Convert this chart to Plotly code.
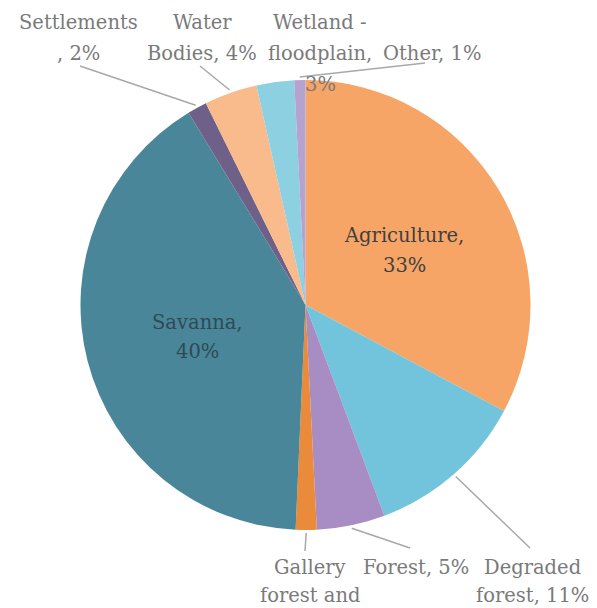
import math
import plotly.graph_objects as go

# ---- data ----
categories = ["Agriculture", "Degraded forest", "Forest", "Gallery forest and riparian",
              "Savanna", "Settlements", "Water Bodies", "Wetland - floodplain", "Other"]
values = [32.8, 11.5, 4.9, 1.5, 40.6, 1.4, 3.8, 2.7, 0.8]
label_texts = ["Agriculture,<br>33%", "Degraded<br>forest, 11%", "Forest, 5%",
               "Gallery<br>forest and", "Savanna,<br>40%", "Settlements<br>, 2%",
               "Water<br>Bodies, 4%", "Wetland -<br>floodplain,<br>3%", "Other, 1%"]

# ---- styles ----
colors = ["#f7a566", "#72c4dc", "#a88cc4", "#e98b3b", "#4a8699",
          "#6f6089", "#f9bb8b", "#8dd0e2", "#b6a2cf"]

W, H = 597, 608
CX, CY, R = 305.5, 305.0, 225.0

# label placement (pixel centers of each text line), leader end point (None = no line)
label_pos = {
    "Agriculture": (404, [236, 265], None, "#404040"),
    "Degraded forest": (532, [567, 595], (530, 548), "#7a7a7a"),
    "Forest": (416, [567], (410, 548), "#7a7a7a"),
    "Gallery forest and riparian": (310, [567, 595], (305, 551), "#7a7a7a"),
    "Savanna": (197, [322, 351], None, "#2f4a55"),
    "Settlements": (78, [23, 53], (80, 66), "#7a7a7a"),
    "Water Bodies": (202, [23, 53], (200, 66), "#7a7a7a"),
    "Wetland - floodplain": (320, [23, 53, 84], None, "#7a7a7a"),
    "Other": (432, [53], (425, 63), "#7a7a7a"),
}

FONT = "DejaVu Serif"
FS = 19.5

def px(x):
    return x / W

def py(y):
    return 1 - y / H

fig = go.Figure(go.Pie(
    labels=categories,
    values=values,
    sort=False,
    direction="clockwise",
    rotation=0,
    marker=dict(colors=colors, line=dict(width=0)),
    textinfo="none",
    hoverinfo="label+percent",
    showlegend=False,
    domain=dict(x=[(CX - R) / W, (CX + R) / W], y=[(H - CY - R) / H, (H - CY + R) / H]),
))

total = sum(values)
cum = 0.0
shapes = []
annotations = []
for cat, v, txt in zip(categories, values, label_texts):
    mid = (cum + v / 2) / total * 2 * math.pi
    cum += v
    xc, ys, end, col = label_pos[cat]
    lines = txt.split("<br>")
    for line, yy in zip(lines, ys):
        annotations.append(dict(
            x=px(xc), y=py(yy), xref="paper", yref="paper",
            text=line, showarrow=False, xanchor="center", yanchor="middle",
            font=dict(family=FONT, size=FS, color=col),
        ))
    if end is not None:
        r0 = R + 3
        sx = CX + r0 * math.sin(mid)
        sy = CY - r0 * math.cos(mid)
        shapes.append(dict(
            type="line", xref="paper", yref="paper",
            x0=px(sx), y0=py(sy), x1=px(end[0]), y1=py(end[1]),
            line=dict(color="#a8a8a8", width=1.5),
        ))

fig.update_layout(
    width=W, height=H,
    margin=dict(l=0, r=0, t=0, b=0),
    paper_bgcolor="white",
    plot_bgcolor="white",
    shapes=shapes,
    annotations=annotations,
)

fig.write_html("out.html")
